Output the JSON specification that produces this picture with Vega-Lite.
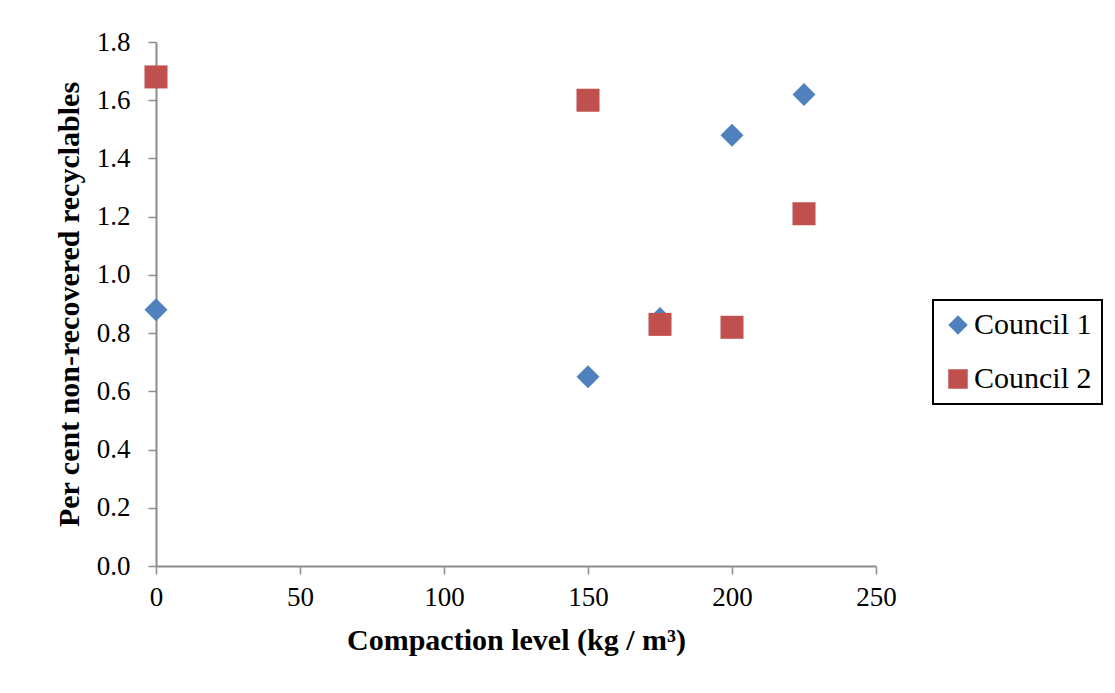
{
  "$schema": "https://vega.github.io/schema/vega-lite/v6.json",
  "width": 720,
  "height": 524,
  "autosize": "none",
  "padding": {"left": 156, "top": 42, "right": 239, "bottom": 127},
  "background": "white",
  "config": {
    "view": {"stroke": null},
    "font": "Times New Roman"
  },
  "data": {
    "values": [
      {"series": "Council 1", "x": 0, "y": 0.88},
      {"series": "Council 1", "x": 150, "y": 0.65},
      {"series": "Council 1", "x": 175, "y": 0.85},
      {"series": "Council 1", "x": 200, "y": 1.48},
      {"series": "Council 1", "x": 225, "y": 1.62},
      {"series": "Council 2", "x": 0, "y": 1.68},
      {"series": "Council 2", "x": 150, "y": 1.60},
      {"series": "Council 2", "x": 175, "y": 0.83},
      {"series": "Council 2", "x": 200, "y": 0.82},
      {"series": "Council 2", "x": 225, "y": 1.21}
    ]
  },
  "mark": {"type": "point", "filled": true, "opacity": 1, "size": 530},
  "encoding": {
    "x": {
      "field": "x", "type": "quantitative",
      "scale": {"domain": [0, 250], "nice": false, "zero": false},
      "axis": {
        "title": "Compaction level (kg / m³)",
        "values": [0, 50, 100, 150, 200, 250],
        "grid": false,
        "labelFlush": false,
        "domainColor": "#8c8c8c", "domainWidth": 2,
        "tickColor": "#8c8c8c", "tickWidth": 1.5, "tickSize": 8,
        "labelFont": "Times New Roman", "labelFontSize": 27, "labelColor": "black",
        "labelPadding": 10,
        "titleFont": "Times New Roman", "titleFontSize": 30, "titleFontWeight": "bold", "titleColor": "black",
        "titlePadding": 15
      }
    },
    "y": {
      "field": "y", "type": "quantitative",
      "scale": {"domain": [0, 1.8], "nice": false},
      "axis": {
        "title": "Per cent non-recovered recyclables",
        "values": [0, 0.2, 0.4, 0.6, 0.8, 1.0, 1.2, 1.4, 1.6, 1.8],
        "format": ".1f",
        "grid": false,
        "labelFlush": false,
        "domainColor": "#8c8c8c", "domainWidth": 2,
        "tickColor": "#8c8c8c", "tickWidth": 1.5, "tickSize": 8,
        "labelFont": "serif", "labelFontSize": 27, "labelColor": "black",
        "labelPadding": 18,
        "titleFont": "Times New Roman", "titleFontSize": 30, "titleFontWeight": "bold", "titleColor": "black",
        "titlePadding": 12
      }
    },
    "color": {
      "field": "series", "type": "nominal",
      "scale": {"domain": ["Council 1", "Council 2"], "range": ["#4F81BD", "#C0504D"]},
      "legend": {
        "title": null,
        "orient": "none",
        "legendX": 777,
        "legendY": 258,
        "strokeColor": "black",
        "padding": 10,
        "labelFont": "Times New Roman",
        "labelFontSize": 30,
        "labelColor": "black",
        "labelOffset": 1,
        "symbolSize": 380,
        "symbolOpacity": 1,
        "rowPadding": 24,
        "labelLimit": 300,
        "encode": {"legend": {"update": {"strokeWidth": {"value": 2}}}}
      }
    },
    "shape": {
      "field": "series", "type": "nominal",
      "scale": {"domain": ["Council 1", "Council 2"], "range": ["diamond", "square"]},
      "legend": null
    }
  }
}
